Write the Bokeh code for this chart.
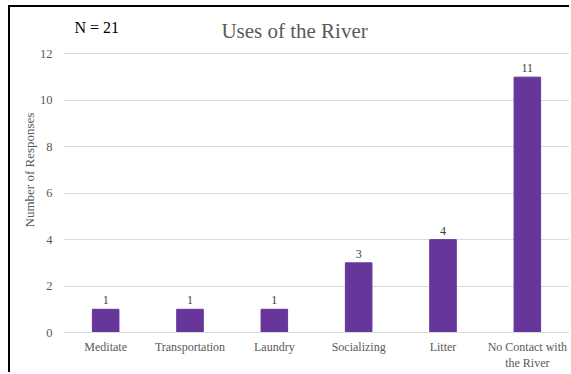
from bokeh.plotting import figure
from bokeh.models import FixedTicker, Label, ColumnDataSource, LabelSet, Range1d
from bokeh.embed import file_html
from bokeh.resources import INLINE

# Survey responses: how respondents use the river
categories = ["Meditate", "Transportation", "Laundry", "Socializing", "Litter",
              "No Contact with\nthe River"]
responses = [1, 1, 1, 3, 4, 11]
y_ticks = [0, 2, 4, 6, 8, 10, 12]
sample_size = 21

SERIF = "Liberation Serif"
GREY = "#595959"
BAR = "#67369A"

source = ColumnDataSource(dict(cat=categories, val=responses,
                               lbl=[str(v) for v in responses]))

p = figure(x_range=categories, y_range=Range1d(0, 14.0),
           width=561, height=367, output_backend="svg", toolbar_location=None,
           min_border_left=53, min_border_right=2, min_border_top=0,
           min_border_bottom=42, outline_line_color=None,
           margin=(5, 0, 0, 8))
p.styles = {"border-top": "2px solid black", "border-left": "2px solid black"}

p.vbar(x="cat", top="val", width=0.315, source=source, color=BAR)

p.add_layout(LabelSet(x="cat", y="val", text="lbl", source=source,
                      text_align="center", text_baseline="bottom", y_offset=5,
                      text_font=SERIF, text_font_size="12px", text_color="#404040"))

# axes
p.yaxis.ticker = FixedTicker(ticks=y_ticks)
p.yaxis.axis_line_color = None
p.yaxis.major_tick_line_color = None
p.yaxis.minor_tick_line_color = None
p.yaxis.major_label_text_font = SERIF
p.yaxis.major_label_text_font_size = "12.5px"
p.yaxis.major_label_text_color = GREY
p.yaxis.major_label_standoff = 5
p.yaxis.axis_label = "Number of Responses"
p.yaxis.axis_label_text_font = SERIF
p.yaxis.axis_label_text_font_style = "normal"
p.yaxis.axis_label_text_font_size = "13px"
p.yaxis.axis_label_text_color = GREY
p.yaxis.axis_label_standoff = 0

p.xaxis.axis_line_color = "#d9d9d9"
p.xaxis.major_tick_line_color = None
p.xaxis.minor_tick_line_color = None
p.xaxis.major_label_text_font = SERIF
p.xaxis.major_label_text_font_size = "12px"
p.xaxis.major_label_text_color = GREY
p.xaxis.major_label_standoff = 1

p.xgrid.grid_line_color = None
p.ygrid.grid_line_color = "#d9d9d9"

# chart heading and sample size
p.add_layout(Label(x=2.74, y=13.0, text="Uses of the River", text_align="center",
                   text_baseline="middle", text_font=SERIF, text_font_size="21px",
                   text_color=GREY))
p.add_layout(Label(x=0.13, y=13.13, text=f"N = {sample_size}", text_align="left",
                   text_baseline="middle", text_font=SERIF, text_font_size="16px",
                   text_color="black"))

open("out.html", "w").write(file_html(p, INLINE))
